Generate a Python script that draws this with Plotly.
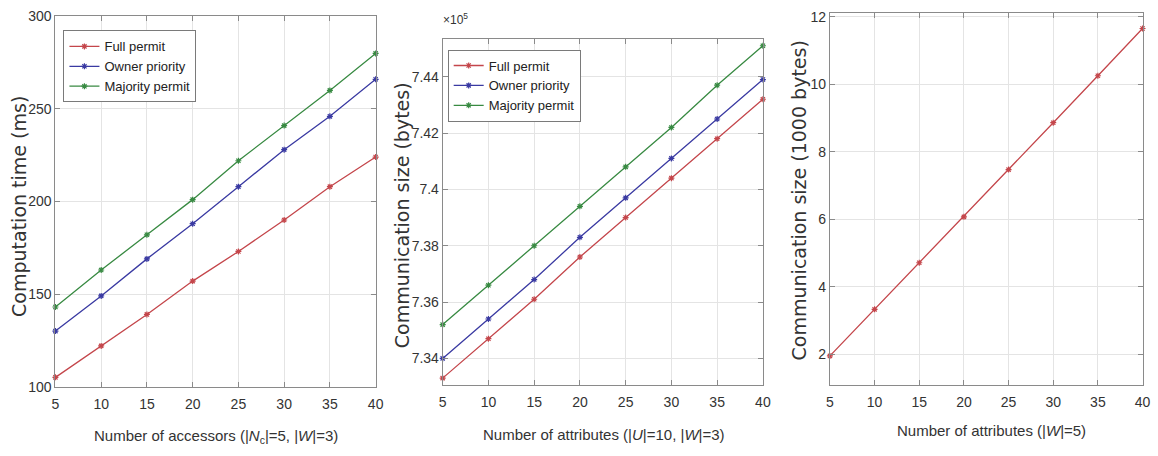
import plotly.graph_objects as go

# ---------------- data ----------------
x_vals = [5, 10, 15, 20, 25, 30, 35, 40]

# Panel 1: computation time (ms)
time_full = [105, 122, 139, 157, 173, 190, 208, 224]
time_owner = [130, 149, 169, 188, 208, 228, 246, 266]
time_majority = [143, 163, 182, 201, 222, 241, 260, 280]

# Panel 2: communication size (x 1e5 bytes)
comm_full = [7.333, 7.347, 7.361, 7.376, 7.390, 7.404, 7.418, 7.432]
comm_owner = [7.340, 7.354, 7.368, 7.383, 7.397, 7.411, 7.425, 7.439]
comm_majority = [7.352, 7.366, 7.380, 7.394, 7.408, 7.422, 7.437, 7.451]

# Panel 3: communication size (1000 bytes)
comm_single = [1.95, 3.33, 4.71, 6.07, 7.47, 8.86, 10.25, 11.65]

series_names = ["Full permit", "Owner priority", "Majority permit"]
y1_ticks = [100, 150, 200, 250, 300]
y2_ticks = [7.34, 7.36, 7.38, 7.40, 7.42, 7.44]
y2_ticktext = ["7.34", "7.36", "7.38", "7.4", "7.42", "7.44"]
y3_ticks = [2, 4, 6, 8, 10, 12]

# ---------------- styling ----------------
W, H = 1158, 456
RED, BLUE, GREEN = "#c4464b", "#3a3aa2", "#388a42"
SANS = "Liberation Sans Narrow, Arial Narrow, Liberation Sans, Arial"
TICK_FONT = dict(family=SANS, size=14, color="#333333")
TITLE_FONT = dict(family=SANS, size=15, color="#333333")
YTITLE_FONT = dict(family="DejaVu Sans", size=19, color="#333333")
LEG_FONT = dict(family=SANS, size=13, color="#222222")


def px_x(p):
    # desired on-screen pixel -> paper fraction
    return min(((p - 3.6) / 0.989) / W, 0.9935)


def px_y(p):
    return 1 - ((p - 8.7) / 0.959) / H


fig = go.Figure()


def add_line(x, y, name, color, xa, ya, legend, show=True):
    fig.add_trace(go.Scatter(
        x=x, y=y, name=name, mode="lines+markers",
        line=dict(color=color, width=1.3),
        marker=dict(symbol="asterisk-open", size=5, color=color, line=dict(color=color, width=1.2)),
        xaxis=xa, yaxis=ya, legend=legend, showlegend=show, cliponaxis=False,
    ))


for ys, nm, c in zip([time_full, time_owner, time_majority], series_names, [RED, BLUE, GREEN]):
    add_line(x_vals, ys, nm, c, "x", "y", "legend")
for ys, nm, c in zip([comm_full, comm_owner, comm_majority], series_names, [RED, BLUE, GREEN]):
    add_line(x_vals, ys, nm, c, "x2", "y2", "legend2")
add_line(x_vals, comm_single, "Communication size", RED, "x3", "y3", "legend", show=False)

axis_common = dict(
    showline=True, linecolor="#8a8a8a", linewidth=1, mirror="ticks",
    ticks="inside", ticklen=5, tickcolor="#8a8a8a",
    showgrid=True, gridcolor="#e4e4e4", gridwidth=1,
    zeroline=False, tickfont=TICK_FONT, fixedrange=True,
)

xdom = [(55, 375), (442, 762), (829, 1146)]
ydom = [(17, 385), (39.5, 383), (14, 383)]

layout = dict(
    width=W, height=H, margin=dict(l=0, r=0, t=0, b=0),
    paper_bgcolor="white", plot_bgcolor="white",
)
for i in range(3):
    sfx = "" if i == 0 else str(i + 1)
    layout["xaxis" + sfx] = dict(
        axis_common, domain=[px_x(xdom[i][0]), px_x(xdom[i][1])],
        range=[5, 40], tickvals=x_vals, anchor="y" + sfx, ticklabelstandoff=5,
    )
layout["yaxis"] = dict(axis_common, domain=[px_y(ydom[0][1]), px_y(ydom[0][0])],
                       range=[100, 300], tickvals=y1_ticks, anchor="x")
layout["yaxis2"] = dict(axis_common, domain=[px_y(ydom[1][1]), px_y(ydom[1][0])],
                        range=[7.3307, 7.4534], tickvals=y2_ticks, ticktext=y2_ticktext, anchor="x2")
layout["yaxis3"] = dict(axis_common, domain=[px_y(ydom[2][1]), px_y(ydom[2][0])],
                        range=[1.1, 12.1], tickvals=y3_ticks, anchor="x3")

leg_common = dict(
    bgcolor="white", bordercolor="#7a7a7a", borderwidth=1, font=LEG_FONT,
    xanchor="left", yanchor="top", itemwidth=30, tracegroupgap=0,
)
layout["legend"] = dict(leg_common, x=px_x(63), y=px_y(31))
layout["legend2"] = dict(leg_common, x=px_x(447), y=px_y(50))

fig.update_layout(**layout)

# axis titles
anns = [
    dict(text="Number of accessors (|<i>N</i><sub>c</sub>|=5, |<i>W</i>|=3)", x=px_x(215), y=px_y(435), font=TITLE_FONT),
    dict(text="Number of attributes (|<i>U</i>|=10, |<i>W</i>|=3)", x=px_x(603), y=px_y(433), font=TITLE_FONT),
    dict(text="Number of attributes (|<i>W</i>|=5)", x=px_x(990), y=px_y(429), font=TITLE_FONT),
    dict(text="Computation time (ms)", x=px_x(18), y=px_y(206), font=YTITLE_FONT, textangle=-90),
    dict(text="Communication size (bytes)", x=px_x(401), y=px_y(215), font=YTITLE_FONT, textangle=-90),
    dict(text="Communication size (1000 bytes)", x=px_x(799), y=px_y(200), font=YTITLE_FONT, textangle=-90),
    dict(text="×10<sup>5</sup>", x=px_x(455), y=px_y(20), font=dict(TICK_FONT, size=12)),
]
for a in anns:
    fig.add_annotation(xref="paper", yref="paper", showarrow=False,
                       xanchor="center", yanchor="middle", **a)

fig.write_html("out.html", config={"displayModeBar": False})

# remove the default page margin so the figure fills the window exactly
with open("out.html", "r", encoding="utf-8") as f:
    page = f.read()
page = page.replace(
    "<head>",
    "<head><style>html,body{margin:0;padding:0;overflow:hidden;}</style>",
    1,
)
with open("out.html", "w", encoding="utf-8") as f:
    f.write(page)
